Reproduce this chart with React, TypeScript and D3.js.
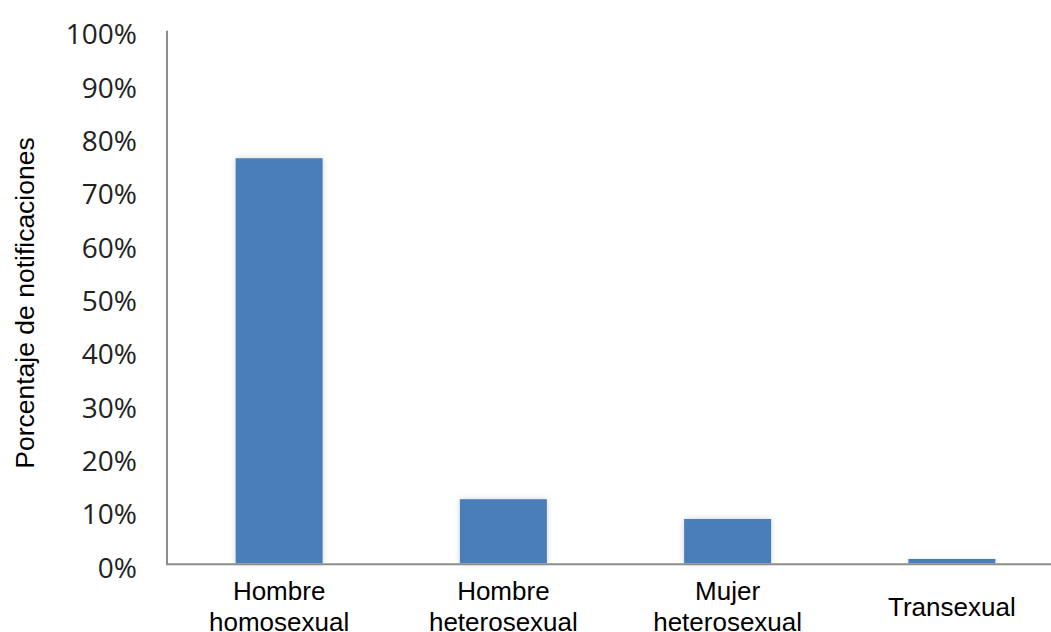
import React from "react";
import * as d3 from "d3";

const categories: string[][] = [
  ["Hombre", "homosexual"],
  ["Hombre", "heterosexual"],
  ["Mujer", "heterosexual"],
  ["Transexual"],
];
const values: number[] = [0.761, 0.122, 0.085, 0.01];
const yTicks: number[] = [0, 0.1, 0.2, 0.3, 0.4, 0.5, 0.6, 0.7, 0.8, 0.9, 1.0];
const yTitle = "Porcentaje de notificaciones";

const W = 1051;
const H = 632;
const x0 = 167;
const x1 = 1064;
const yBase = 564.3;
const yTop = 30.7;

export default function App() {
  const keys = categories.map((_, i) => String(i));
  const x = d3.scaleBand<string>().domain(keys).range([x0, x1]).paddingInner(0.612).paddingOuter(0.306);
  const y = d3.scaleLinear().domain([0, 1]).range([yBase, yTop]);
  const fmt = d3.format(".0%");
  return (
    <svg width={W} height={H} style={{ position: "absolute", left: 0, top: 0, background: "#fff" }}>
      <defs>
        <filter id="glow" x="-20%" y="-20%" width="140%" height="140%">
          <feGaussianBlur in="SourceAlpha" stdDeviation="3" />
          <feComponentTransfer>
            <feFuncA type="linear" slope="0.18" />
          </feComponentTransfer>
          <feMerge>
            <feMergeNode />
            <feMergeNode in="SourceGraphic" />
          </feMerge>
        </filter>
      </defs>
      {values.map((v, i) => (
        <rect
          key={i}
          x={x(String(i))!}
          y={y(v)}
          width={x.bandwidth()}
          height={yBase - 1 - y(v)}
          fill="#4A7EBB"
          filter="url(#glow)"
        />
      ))}
      <line x1={x0} x2={x0} y1={yTop} y2={yBase} stroke="#8c8c8c" strokeWidth={2} />
      <line x1={x0 - 1} x2={W} y1={yBase} y2={yBase} stroke="#8c8c8c" strokeWidth={2} />
      {yTicks.map((t) => (
        <text
          key={t}
          x={137}
          y={y(t) + 2.5}
          textAnchor="end"
          dominantBaseline="central"
          fontFamily="'Open Sans', sans-serif"
          fontSize={28}
          fill="#222"
        >
          {fmt(t)}
        </text>
      ))}
      <text
        transform={`translate(25,${303}) rotate(-90)`}
        textAnchor="middle"
        dominantBaseline="central"
        fontFamily="'Liberation Sans', Arial, sans-serif"
        fontSize={26.5}
        fill="#000"
      >
        {yTitle}
      </text>
      {categories.map((lines, i) => {
        const cx = x(String(i))! + x.bandwidth() / 2;
        const startY = lines.length === 1 ? 607 : 591;
        return (
          <text
            key={i}
            textAnchor="middle"
            fontFamily="'Liberation Sans', Arial, sans-serif"
            fontSize={26}
            fill="#000"
          >
            {lines.map((l, j) => (
              <tspan key={j} x={cx} y={startY + j * 31} dominantBaseline="central">
                {l}
              </tspan>
            ))}
          </text>
        );
      })}
    </svg>
  );
}
